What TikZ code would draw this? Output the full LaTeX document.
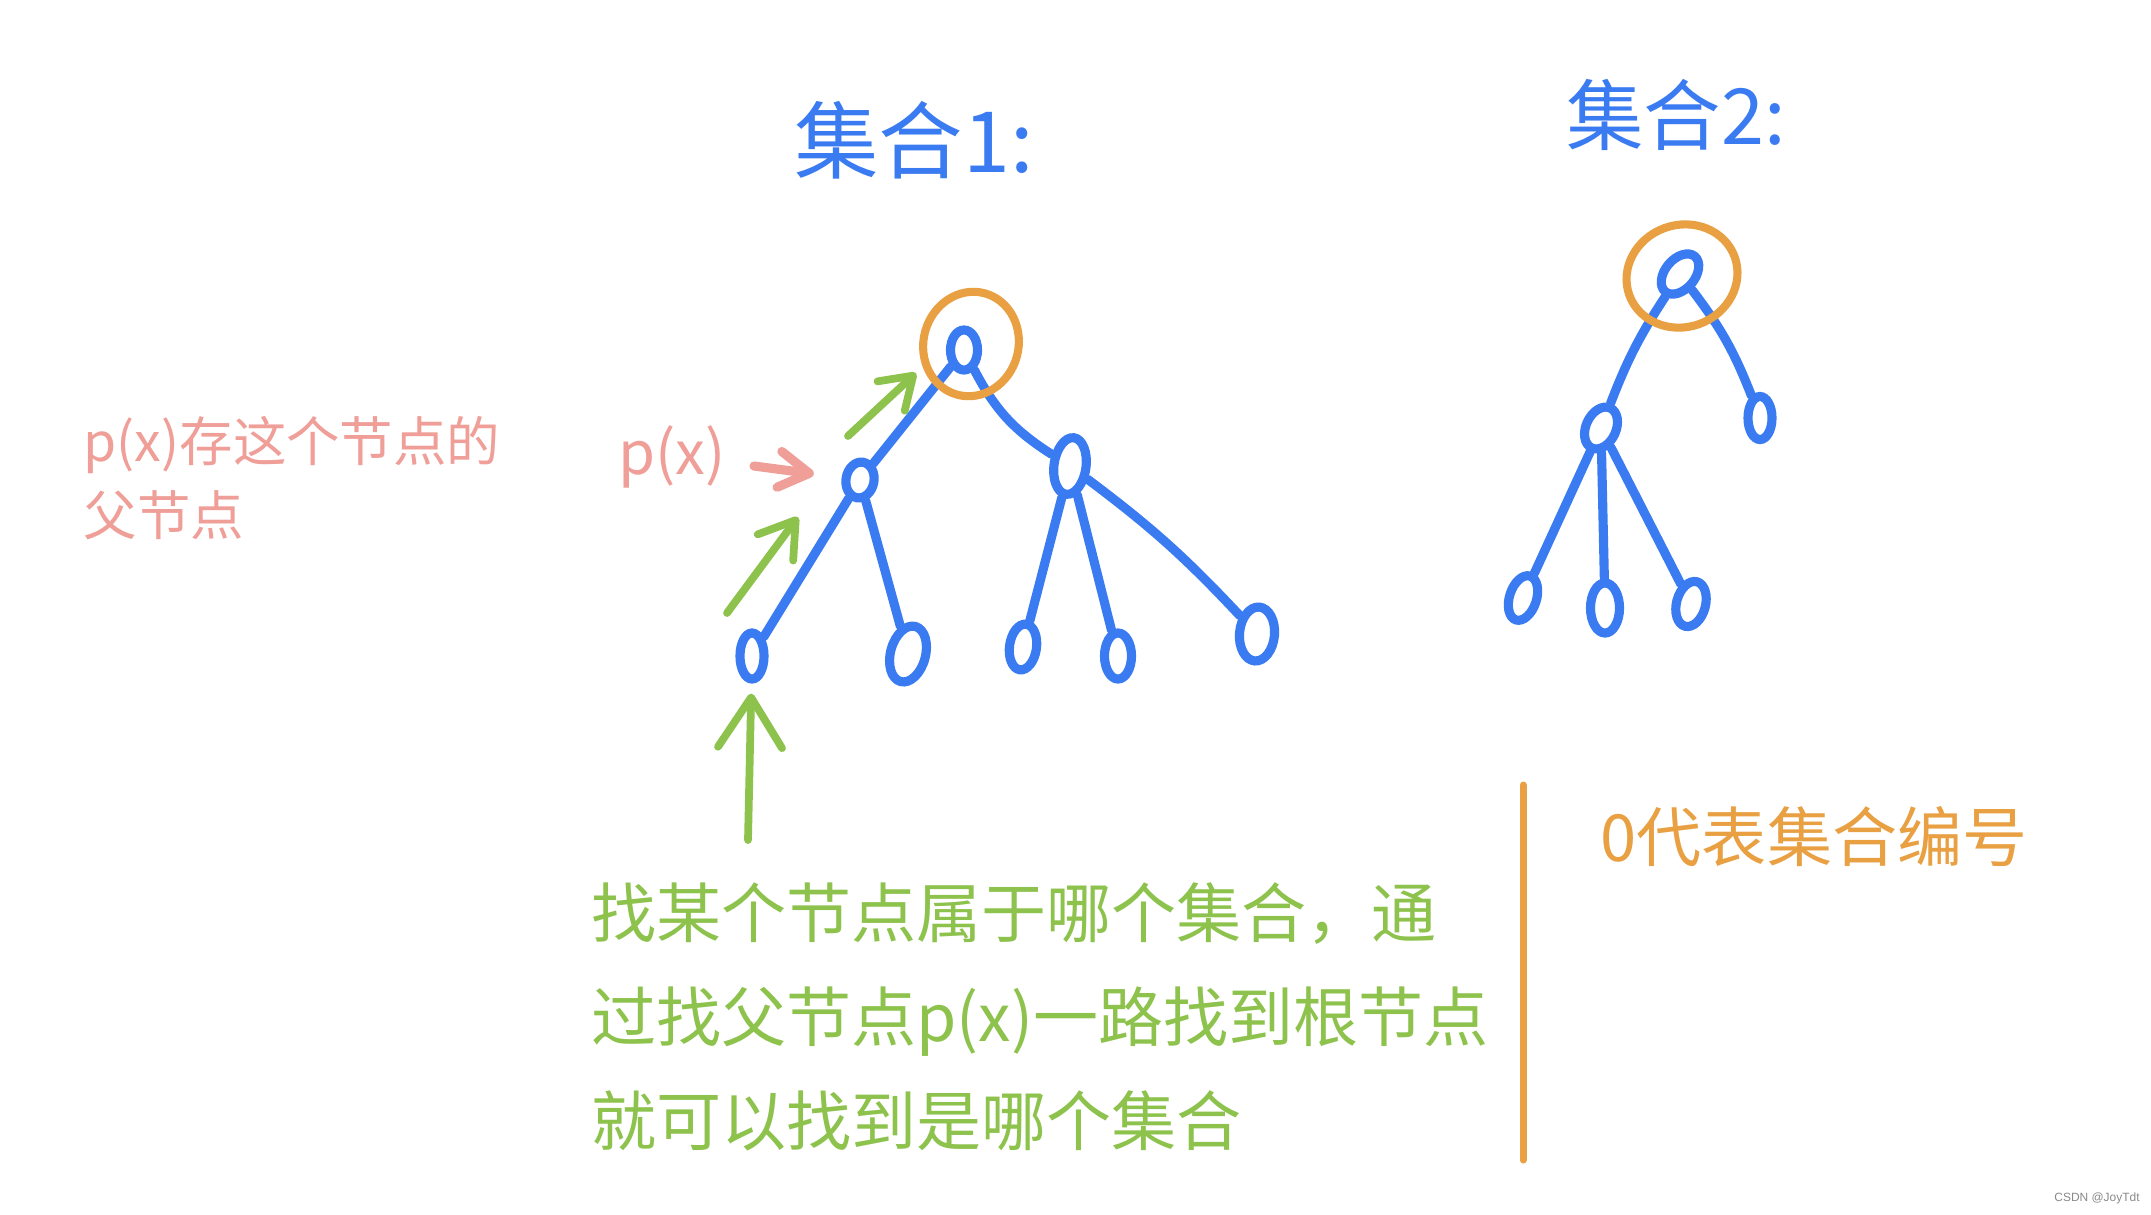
\documentclass[tikz,border=0pt]{standalone}
\usepackage{fontspec}
\usepackage{tikz}
\usetikzlibrary{shapes.geometric, arrows.meta}
\newfontfamily\cjk{Noto Sans CJK SC}
\newfontfamily\wmfont{Liberation Sans}
\definecolor{setBlue}{HTML}{3A7BF2}
\definecolor{rootOrange}{HTML}{E9A042}
\definecolor{parentPink}{HTML}{EF9E98}
\definecolor{findGreen}{HTML}{8DC24C}
\definecolor{markGray}{HTML}{8A8A8A}

\begin{document}
\begin{tikzpicture}[
    x=0.01cm, y=-0.01cm,
    elem/.style={
        ellipse,
        draw=setBlue,
        line width=2.6pt,
        inner sep=0pt,
        minimum width=2.7mm,
        minimum height=4.6mm,
    },
    ring/.style={
        ellipse,
        draw=rootOrange,
        line width=2.3pt,
        inner sep=0pt,
    },
    link/.style={
        draw=setBlue,
        line width=2.6pt,
        line cap=round,
    },
    findarrow/.style={
        -{Straight Barb[length=4mm, width=5mm, round]},
        draw=findGreen,
        line width=2.2pt,
        line cap=round,
    },
    pxarrow/.style={
        -{Straight Barb[length=3mm, width=3.6mm, round]},
        draw=parentPink,
        line width=2.6pt,
        line cap=round,
    },
    divider/.style={
        draw=rootOrange,
        line width=2pt,
        line cap=round,
    },
    title/.style={
        text=setBlue,
        font=\cjk\fontsize{24}{28}\selectfont,
        inner sep=0pt,
    },
    note/.style={
        align=left,
        inner sep=0pt,
    },
]

\path[use as bounding box, fill=white] (0,0) rectangle (2151,1214);

% ===== 集合1 =====
\node[title] (title1) at (914,140) {集合1:};

\node[elem, minimum width=2.7mm, minimum height=4.0mm] (root1) at (964,350) {};
\node[elem, minimum width=2.8mm, minimum height=3.6mm, rotate=-10] (l1) at (860,480) {};
\node[elem, minimum width=3.2mm, minimum height=5.7mm, rotate=-8] (r1) at (1070,466) {};
\node[elem, minimum width=2.4mm, minimum height=4.6mm] (ll1) at (752,656) {};
\node[elem, minimum width=3.5mm, minimum height=5.7mm, rotate=-15] (ll2) at (908,654) {};
\node[elem, rotate=-8] (rl1) at (1023,647) {};
\node[elem] (rl2) at (1118,656) {};
\node[elem, minimum width=3.5mm, minimum height=5.4mm, rotate=-5] (rl3) at (1257,634) {};

\draw[link] (root1) -- (l1);
\draw[link] (root1) to[bend right=15] (r1);
\draw[link] (l1) -- (ll1);
\draw[link] (l1) -- (ll2);
\draw[link] (r1) -- (rl1);
\draw[link] (r1) -- (rl2);
\draw[link] (r1) to[bend left=5] (rl3);

\node[ring, minimum width=9.5mm, minimum height=10.5mm, rotate=-15] (ring1) at (971,344) {};

% ===== 集合2 =====
\node[title, font=\cjk\fontsize{22}{26}\selectfont] (title2) at (1676,115) {集合2:};

\node[elem, minimum width=3.0mm, minimum height=4.6mm, rotate=-40] (root2) at (1680,274) {};
\node[elem, minimum width=3.0mm, minimum height=4.4mm, rotate=-25] (c2) at (1601,428) {};
\node[elem, minimum width=2.4mm, minimum height=4.3mm] (r2) at (1760,418) {};
\node[elem, rotate=-18] (c2a) at (1523,598) {};
\node[elem, minimum width=2.9mm, minimum height=5.0mm] (c2b) at (1605,608) {};
\node[elem, minimum width=2.9mm, rotate=-15] (c2c) at (1691,604) {};

\draw[link] (root2) to[bend right=6] (c2);
\draw[link] (root2) to[bend left=8] (r2);
\draw[link] (c2) -- (c2a);
\draw[link] (c2) -- (c2b);
\draw[link] (c2) -- (c2c);

\node[ring, minimum width=11.2mm, minimum height=10.2mm, rotate=20] (ring2) at (1682,276) {};

% ===== p(x) =====
\node[note, text=parentPink, font=\cjk\fontsize{15.2}{21}\selectfont] (pxnote) at (292,478)
    {p(x)存这个节点的\\父节点};
\node[note, text=parentPink, font=\cjk\fontsize{17}{20}\selectfont] (px) at (672,457) {p(x)};
\coordinate (pxtail) at (754,466);
\draw[pxarrow, shorten >=2.8mm] (pxtail) -- (l1);

% ===== 找根节点 =====
\coordinate (up1) at (848,436);
\coordinate (up1tip) at (916,373);
\coordinate (up2) at (727,613);
\coordinate (up2tip) at (798,517);
\coordinate (up3) at (748,840);
\draw[findarrow, -{Straight Barb[length=3mm, width=4mm, round]}] (up1) -- (up1tip);
\draw[findarrow, -{Straight Barb[length=3.4mm, width=4.4mm, round]}] (up2) -- (up2tip);
\draw[findarrow, -{Straight Barb[length=5mm, width=6.4mm, round]}, shorten >=1mm] (up3) -- (ll1);

\node[note, text=findGreen, font=\cjk\fontsize{18.5}{29.5}\selectfont] (findtext) at (1040,1017)
    {找某个节点属于哪个集合，通\\过找父节点p(x)一路找到根节点\\就可以找到是哪个集合};

% ===== 集合编号 =====
\coordinate (divtop) at (1523,785);
\coordinate (divbottom) at (1523,1160);
\draw[divider] (divtop) -- (divbottom);
\node[note, text=rootOrange, font=\cjk\fontsize{18.5}{22}\selectfont] (rootnote) at (1814,837) {0代表集合编号};

\node[note, text=markGray, font=\wmfont\fontsize{3.4}{4}\selectfont] (watermark) at (2097,1198) {CSDN @JoyTdt};

\end{tikzpicture}
\end{document}
